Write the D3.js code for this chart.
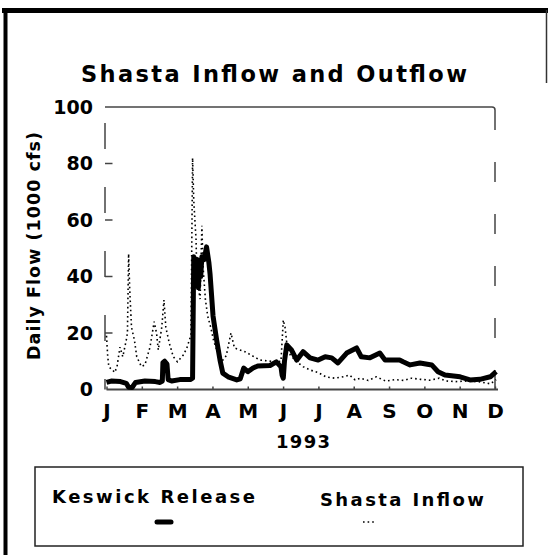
<!DOCTYPE html>
<html>
<head>
<meta charset="utf-8">
<script src="https://cdn.jsdelivr.net/npm/d3@7"></script>
<style>
  html, body { margin: 0; padding: 0; background: #fff; }
  svg { display: block; }
  text { font-family: "DejaVu Sans", "Liberation Sans", Arial, sans-serif; font-weight: bold; fill: #000; }
</style>
</head>
<body>
<svg id="chart" width="548" height="555"></svg>
<script>
// ---- data ----
const months = ["J","F","M","A","M","J","J","A","S","O","N","D"];
const yTicks = [0, 20, 40, 60, 80, 100];

// Keswick Release (1000 cfs), day of year
const releaseDay  = [0,4,12,17,19,22,25,33,42,46,48,48.5,50,52,53,56,63,72,74,75,76,77,78,79,80,81,82,84,86,88,89,91.6,94.7,97.6,100,104.5,112,115,118,121.5,126,130,140.6,146,150,151,152,153,155,159,163.5,169,175,182,188,193.6,199,206.5,215,219,226.5,235,239.5,252,255,261,269.5,279.6,285,291,304,312.5,321,330,335];
const releaseFlow = [2.5,3,2.8,2.2,0.8,0.7,2.5,3,2.8,2.5,3,9.5,10,9,3.5,3,3.5,3.5,4,47,44,38,46,36,44,40,47,46,50.5,45,41,26,17.5,10.4,5.8,4.5,3.4,3.8,7.6,6.3,7.6,8.3,8.5,9.8,8,5,4,10,15.8,14,10.4,13.4,11.2,10.4,11.6,11.2,9.4,12.9,14.7,11.6,11.2,12.9,10.4,10.4,9.8,8.7,9.4,8.7,6.3,5.1,4.5,3.4,3.6,4.5,6.3];

// Shasta Inflow (1000 cfs), day of year
const inflowDay  = [0,1,2,5,7,9,11.6,14,17,18,19,20,21.5,24,26,30,33,37.4,41,43,44.5,47.5,49.4,51,54,57.4,61,66,69,72.6,74,75,77,77.5,79,80.5,82,83,85,87,89.6,92,94.7,97.6,100,103,107,110,119,132,146,150,152,153.5,155,158,163.5,169,175,182,189,196.5,203.6,209,213.7,218,225,232,240,248,256,262,270,278,286,292,300,310,320,330,335];
const inflowFlow = [19,12,8,7,6,8,15,11.6,17.5,20,48,35,22,17.5,11.6,8.1,8.7,15,24,20,14,22,31.7,22,16.4,11.6,9.8,12.2,14.6,19.3,82,67,53,43.5,36,32,58,43.5,32,26,22,17.5,14,11.6,10.4,12,20,14.7,13.4,10.4,9.8,10,24.6,22,16.4,12.2,9.8,8.1,6.9,6,4.4,4,4.5,5.1,3.4,4,3.2,4.5,3,3.5,3.2,4,3.6,3.3,4,3,2.8,3,2.8,2,3.5];

// ---- layout ----
const svg = d3.select("#chart");
const pLeft = 106.5, pRight = 495, pTop = 107, pBottom = 389.5;

const x = d3.scaleLinear().domain([0, 334]).range([pLeft, pRight]);
const xm = d3.scalePoint().domain(d3.range(months.length)).range([pLeft, pRight]);
const y = d3.scaleLinear().domain([0, 100]).range([pBottom, pTop]);

// outer border
svg.append("line").attr("x1", 2).attr("x2", 548).attr("y1", 10.5).attr("y2", 10.5)
  .attr("stroke", "#000").attr("stroke-width", 5);
svg.append("line").attr("x1", 5.5).attr("x2", 5.5).attr("y1", 8).attr("y2", 555)
  .attr("stroke", "#000").attr("stroke-width", 4);
svg.append("line").attr("x1", 546.5).attr("x2", 546.5).attr("y1", 10).attr("y2", 83)
  .attr("stroke", "#333").attr("stroke-width", 1.5);

// title
svg.append("text").attr("x", 274).attr("y", 82).attr("text-anchor", "middle")
  .attr("font-size", 22.5).attr("textLength", 386).attr("lengthAdjust", "spacing")
  .text("Shasta Inflow and Outflow");

// plot frame
svg.append("line").attr("x1", pLeft - 1.5).attr("x2", pRight - 3).attr("y1", pTop).attr("y2", pTop)
  .attr("stroke", "#444").attr("stroke-width", 1.5);
svg.append("path").attr("d", `M${pRight - 3},${pTop} Q${pRight},${pTop} ${pRight},${pTop + 3}`)
  .attr("fill", "none").attr("stroke", "#444").attr("stroke-width", 1.5);
svg.append("line").attr("x1", pRight).attr("x2", pRight).attr("y1", pTop + 3).attr("y2", pBottom)
  .attr("stroke", "#444").attr("stroke-width", 1.5).attr("stroke-dasharray", "20,32");
svg.append("line").attr("x1", pLeft - 1.5).attr("x2", pLeft - 1.5).attr("y1", pTop + 16).attr("y2", pBottom)
  .attr("stroke", "#444").attr("stroke-width", 1.5).attr("stroke-dasharray", "26,38");

// y axis
const yAxis = svg.append("g");
yAxis.selectAll("line").data(yTicks.filter(d => d > 0 && d < 100)).join("line")
  .attr("x1", pLeft - 1.5).attr("x2", pLeft + 6).attr("y1", d => y(d)).attr("y2", d => y(d))
  .attr("stroke", "#444").attr("stroke-width", 1.5);
yAxis.selectAll("text").data(yTicks).join("text")
  .attr("x", 93).attr("y", d => y(d)).attr("dy", "0.36em").attr("text-anchor", "end")
  .attr("font-size", 19)
  .text(d => d);

// y axis title
svg.append("text").attr("transform", "translate(40,246) rotate(-90)")
  .attr("text-anchor", "middle").attr("font-size", 17.5)
  .attr("textLength", 228).attr("lengthAdjust", "spacing")
  .text("Daily Flow (1000 cfs)");

// x axis
const xAxis = svg.append("g").attr("transform", `translate(0,${pBottom})`)
  .call(d3.axisBottom(xm).tickSize(-3).tickPadding(0).tickFormat(i => months[i]));
xAxis.select(".domain").remove();
xAxis.selectAll(".tick line").attr("stroke", "#444").attr("stroke-width", 1.5);
xAxis.selectAll(".tick text").attr("font-size", 20).attr("y", 28.5).attr("dy", 0)
  .attr("font-family", "DejaVu Sans, Liberation Sans, Arial, sans-serif").attr("font-weight", "bold")
  .attr("fill", "#000");
svg.append("line").attr("x1", pLeft).attr("x2", pRight + 3).attr("y1", pBottom).attr("y2", pBottom)
  .attr("stroke", "#444").attr("stroke-width", 2);

svg.append("text").attr("x", 303).attr("y", 448).attr("text-anchor", "middle")
  .attr("font-size", 18).attr("textLength", 54).attr("lengthAdjust", "spacing").text("1993");

// series
const release = releaseDay.map((d, i) => [d, releaseFlow[i]]);
const inflow = inflowDay.map((d, i) => [d, inflowFlow[i]]);
const line = d3.line().x(d => x(d[0])).y(d => y(d[1]));

svg.append("path").datum(inflow).attr("d", line)
  .attr("fill", "none").attr("stroke", "#000").attr("stroke-width", 1.6)
  .attr("stroke-dasharray", "1.6,3");
svg.append("path").datum(release).attr("d", line)
  .attr("fill", "none").attr("stroke", "#000").attr("stroke-width", 5)
  .attr("stroke-linejoin", "round");

// legend
const lg = svg.append("g");
lg.append("rect").attr("x", 35).attr("y", 467).attr("width", 488).attr("height", 79)
  .attr("fill", "none").attr("stroke", "#222").attr("stroke-width", 1.5);
lg.append("text").attr("x", 52).attr("y", 503).attr("font-size", 18)
  .attr("textLength", 203).attr("lengthAdjust", "spacing").text("Keswick Release");
lg.append("text").attr("x", 320).attr("y", 506).attr("font-size", 18)
  .attr("textLength", 164).attr("lengthAdjust", "spacing").text("Shasta Inflow");
lg.append("line").attr("x1", 157).attr("x2", 171).attr("y1", 522).attr("y2", 522)
  .attr("stroke", "#000").attr("stroke-width", 5).attr("stroke-linecap", "round");
lg.append("line").attr("x1", 363).attr("x2", 376).attr("y1", 522).attr("y2", 522)
  .attr("stroke", "#000").attr("stroke-width", 1.6).attr("stroke-dasharray", "1.6,3");
</script>
</body>
</html>
